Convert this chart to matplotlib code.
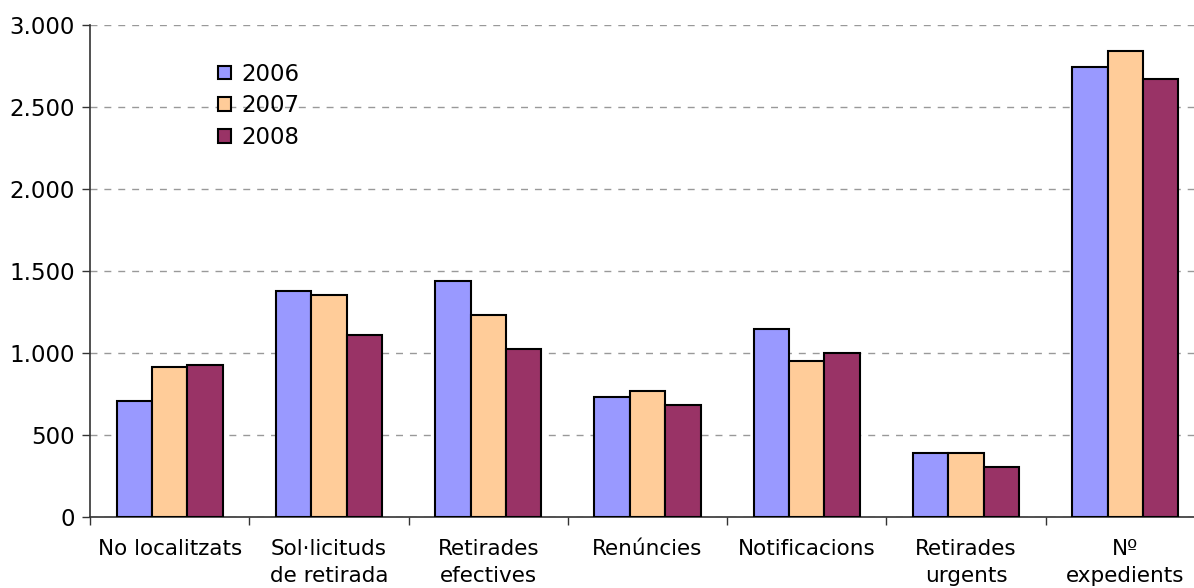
import numpy as np
import matplotlib.pyplot as plt
from matplotlib.ticker import FuncFormatter

categories = ["No localitzats", "Sol·licituds\nde retirada", "Retirades\nefectives",
              "Renúncies", "Notificacions", "Retirades\nurgents", "Nº\nexpedients"]
years = ["2006", "2007", "2008"]
v2006 = [707, 1376, 1437, 733, 1144, 392, 2744]
v2007 = [916, 1355, 1232, 768, 949, 392, 2841]
v2008 = [927, 1110, 1024, 683, 998, 305, 2671]
colors = ["#9999FF", "#FFCC99", "#993366"]

fig = plt.figure(figsize=(11.94, 5.88), dpi=100)
ax = fig.add_axes([90 / 1194, 71 / 588, 1115 / 1194, 492 / 588])

x = np.arange(len(categories))
w = 0.222
for i, (vals, lab) in enumerate(zip([v2006, v2007, v2008], years)):
    ax.bar(x + (i - 1) * w, vals, w, color=colors[i], edgecolor="black",
           linewidth=1.5, label=lab, zorder=3)

ax.set_xlim(-0.5, len(categories) - 0.5)
ax.set_ylim(0, 3000)
ax.set_yticks(np.arange(0, 3001, 500))
ax.yaxis.set_major_formatter(FuncFormatter(lambda v, p: f"{int(v):,}".replace(",", ".")))
ax.yaxis.grid(True, linestyle=(0, (5, 5)), color="#999999", linewidth=1, zorder=0)

ax.set_xticks(x)
ax.set_xticklabels(categories, fontsize=15.5, linespacing=1.4)
ax.set_xticks(np.arange(-0.5, len(categories), 1), minor=True)
ax.tick_params(axis="x", which="major", length=0, pad=16)
ax.tick_params(axis="x", which="minor", length=6, width=1, color="#333333")
ax.tick_params(axis="y", length=6, width=1, labelsize=16.5, pad=5, color="#333333")

for s in ["top", "right"]:
    ax.spines[s].set_visible(False)
for s in ["left", "bottom"]:
    ax.spines[s].set_color("#333333")
    ax.spines[s].set_linewidth(1.2)

ax.legend(loc="upper left", bbox_to_anchor=(0.107, 0.942), frameon=False, fontsize=16.5,
          handlelength=0.55, handleheight=0.55, handletextpad=0.45, labelspacing=0.38,
          borderaxespad=0)

fig.savefig("out.png", dpi=100)
